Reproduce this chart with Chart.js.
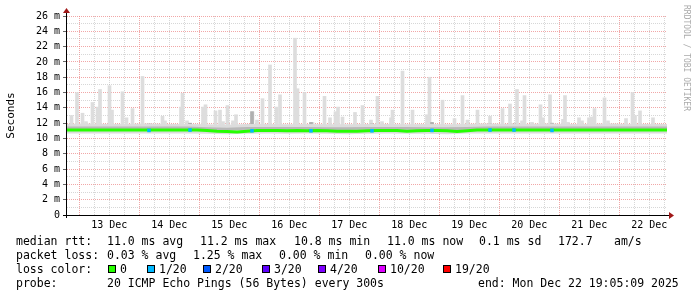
<!DOCTYPE html>
<html>
<head>
<meta charset="utf-8">
<script src="https://cdn.jsdelivr.net/npm/chart.js@4.4.1/dist/chart.umd.min.js"></script>
<style>
  body { margin: 0; background: #fff; }
  canvas { display: block; }
</style>
</head>
<body>
<canvas id="graficoPing" width="697" height="297"></canvas>
<script>
// hours counted from the start of the graph (Mon Dec 12 19:05)
const dayLabels = ["13 Dec", "14 Dec", "15 Dec", "16 Dec", "17 Dec", "18 Dec", "19 Dec", "20 Dec", "21 Dec", "22 Dec"];
const midnightOffset = 4.9167;

// light smoke spikes (max of the 20 pings)
const spikeHours = [1.8, 4.0, 6.2, 7.6, 10.2, 12.2, 13.2, 17.0, 18.0, 22.2, 23.8, 26.2, 30.2, 38.2, 39.2,
  45.6, 46.2, 48.0, 54.4, 55.4, 59.4, 61.2, 62.4, 64.2, 66.4, 67.6, 74.2, 76.0, 78.2, 81.2, 83.8, 85.2,
  91.2, 92.2, 95.0, 98.2, 103.0, 105.2, 107.4, 108.4, 110.2, 115.2, 118.2, 121.6, 124.2, 126.0, 129.6,
  130.2, 134.2, 138.2, 144.0, 145.0, 150.2, 155.0, 158.2, 160.2, 164.2, 169.2, 174.2, 177.2, 180.0,
  182.0, 183.0, 186.0, 189.4, 190.4, 193.2, 198.4, 199.2, 200.4, 204.8, 206.0, 208.8, 209.8, 211.0,
  215.0, 216.4, 223.6, 226.2, 227.2, 229.2, 234.4];
const spikeMax = [13.0, 16.0, 13.3, 12.2, 14.7, 14.1, 16.4, 16.9, 13.7, 16.1, 12.7, 13.9, 18.1, 12.9, 12.3,
  14.1, 15.9, 12.3, 14.1, 14.4, 13.6, 13.7, 12.2, 14.3, 12.3, 13.1, 13.5, 12.4, 15.2, 19.6, 14.1, 15.7,
  23.1, 16.5, 16.0, 12.1, 15.5, 12.7, 13.5, 14.1, 12.8, 13.4, 14.3, 12.4, 15.5, 12.2, 12.7,
  13.7, 18.8, 13.7, 13.1, 18.0, 15.0, 12.6, 15.6, 12.4, 13.7, 12.9, 13.9, 14.5, 16.4,
  12.3, 15.6, 12.1, 14.4, 12.7, 15.7, 12.5, 15.6, 12.1, 12.7, 12.3, 12.7, 12.8, 13.9,
  15.3, 12.3, 12.6, 16.0, 13.0, 13.6, 12.7];

// smoke band around the median, every 8 hours
const smokeLow = [10.65, 10.65, 10.65, 10.65, 10.65, 10.65, 10.65, 10.6, 10.55, 10.6, 10.65, 10.6, 10.65, 10.6, 10.55, 10.6,
  10.65, 10.6, 10.6, 10.55, 10.65, 10.65, 10.65, 10.65, 10.65, 10.65, 10.65, 10.65, 10.65, 10.65, 10.65];
const smokeHigh = [11.9, 11.95, 11.9, 11.9, 11.95, 11.9, 11.9, 11.85, 11.8, 11.9, 11.9, 11.85, 11.9, 11.85, 11.85, 11.9,
  11.9, 11.85, 11.9, 11.85, 11.9, 11.95, 11.9, 11.9, 11.95, 11.9, 11.9, 11.95, 11.9, 11.9, 11.9];
const midLow = [11.2, 11.2, 11.2, 11.2, 11.2, 11.2, 11.2, 11.1, 11.05, 11.15, 11.15, 11.15, 11.15, 11.1, 11.1, 11.15,
  11.15, 11.15, 11.1, 11.05, 11.15, 11.2, 11.2, 11.2, 11.2, 11.2, 11.2, 11.2, 11.2, 11.2, 11.2];
const midHigh = [11.55, 11.55, 11.55, 11.55, 11.55, 11.55, 11.55, 11.45, 11.4, 11.5, 11.5, 11.5, 11.5, 11.45, 11.45, 11.5,
  11.5, 11.5, 11.45, 11.45, 11.5, 11.55, 11.55, 11.55, 11.55, 11.55, 11.55, 11.55, 11.55, 11.55, 11.55];

// median rtt, every 4 hours
const medianRtt = [11.1, 11.1, 11.1, 11.1, 11.1, 11.1, 11.1, 11.1, 11.1, 11.1, 11.1, 11.1, 11.1, 11.1, 11.05,
  10.95, 10.9, 10.85, 10.95, 11.05, 11.05, 11.05, 11.0, 11.05, 11.0, 11.05, 11.0, 10.95, 10.95, 10.95,
  11.0, 11.05, 11.05, 11.05, 10.95, 11.0, 11.05, 11.05, 11.0, 10.9, 11.0, 11.1, 11.1, 11.1, 11.1,
  11.1, 11.1, 11.1, 11.1, 11.1, 11.1, 11.1, 11.1, 11.1, 11.1, 11.1, 11.1, 11.1, 11.1, 11.1, 11.1];

// samples with 1/20 loss
const lossHours = [32.8, 49.2, 74.0, 97.6, 122.0, 146.0, 169.2, 178.8, 194.0];
const lossRtt = [11.05, 11.1, 11.0, 11.0, 11.0, 11.05, 11.1, 11.1, 11.05];
const lossSmoke = [11.9, 12.0, 13.5, 12.1, 11.9, 12.1, 11.9, 11.9, 12.0];

const lossLabels = ["0", "1/20", "2/20", "3/20", "4/20", "10/20", "19/20"];
const lossColors = ["#26ff00", "#00b8ff", "#0059ff", "#5e00ff", "#7e00ff", "#dd00ff", "#ff0000"];

const corVermelha = "rgba(235,130,130,0.7)";
const corCinza = "rgba(175,175,175,0.5)";
const fonte = "DejaVu Sans Mono";

function pontos(valores, passo) {
  return valores.map((v, i) => ({ x: i * passo, y: v }));
}

const rotulos = {
  id: "rotulos",
  afterDraw(chart) {
    const ctx = chart.ctx;
    const a = chart.chartArea;
    ctx.save();

    // axes with arrows
    ctx.strokeStyle = "#000";
    ctx.lineWidth = 1;
    ctx.beginPath();
    ctx.moveTo(63, a.bottom + 0.5);
    ctx.lineTo(a.right + 4, a.bottom + 0.5);
    ctx.moveTo(a.left - 0.5, a.bottom + 3);
    ctx.lineTo(a.left - 0.5, a.top - 5);
    ctx.stroke();
    ctx.fillStyle = "#a01818";
    ctx.beginPath();
    ctx.moveTo(a.right + 2, a.bottom - 3);
    ctx.lineTo(a.right + 7, a.bottom + 0.5);
    ctx.lineTo(a.right + 2, a.bottom + 4);
    ctx.fill();
    ctx.beginPath();
    ctx.moveTo(a.left - 4, a.top - 3);
    ctx.lineTo(a.left - 0.5, a.top - 8);
    ctx.lineTo(a.left + 3, a.top - 3);
    ctx.fill();

    // watermark
    ctx.save();
    ctx.translate(686, 5);
    ctx.rotate(Math.PI / 2);
    ctx.font = "8px " + fonte;
    ctx.fillStyle = "#aaaaaa";
    ctx.textBaseline = "top";
    ctx.fillText("RRDTOOL / TOBI OETIKER", 0, -4);
    ctx.restore();

    // legend
    ctx.font = "11.5px " + fonte;
    ctx.fillStyle = "#000";
    ctx.textBaseline = "alphabetic";
    const linha1 = [[16, "median rtt:"], [107, "11.0 ms avg"], [200, "11.2 ms max"], [294, "10.8 ms min"],
      [387, "11.0 ms now"], [479, "0.1 ms sd"], [558, "172.7"], [614, "am/s"]];
    const linha2 = [[16, "packet loss:"], [107, "0.03 % avg"], [193, "1.25 % max"], [279, "0.00 % min"], [365, "0.00 % now"]];
    const linha4 = [[16, "probe:"], [107, "20 ICMP Echo Pings (56 Bytes) every 300s"], [478, "end: Mon Dec 22 19:05:09 2025"]];
    linha1.forEach(([x, t]) => ctx.fillText(t, x, 244.5));
    linha2.forEach(([x, t]) => ctx.fillText(t, x, 258.5));
    ctx.fillText("loss color:", 16, 272.5);
    const caixas = [108, 147, 203, 262, 318, 378, 443];
    lossLabels.forEach((t, i) => {
      ctx.fillStyle = lossColors[i];
      ctx.fillRect(caixas[i], 265, 7, 7);
      ctx.strokeStyle = "#000";
      ctx.strokeRect(caixas[i] + 0.5, 265.5, 7, 7);
      ctx.fillStyle = "#000";
      ctx.fillText(t, caixas[i] + 12, 272.5);
    });
    linha4.forEach(([x, t]) => ctx.fillText(t, x, 287));
    ctx.restore();
  }
};

const graficoPing = new Chart(document.getElementById("graficoPing"), {
  type: "bar",
  data: {
    datasets: [
      {
        type: "line",
        label: "loss 1/20",
        data: lossHours.map((h, i) => ({ x: h, y: lossRtt[i] })),
        showLine: false,
        pointStyle: "rect",
        pointRadius: 2.5,
        pointBackgroundColor: "#00b8ff",
        pointBorderWidth: 0,
        order: 0
      },
      {
        type: "line",
        label: "median",
        data: pontos(medianRtt, 4),
        borderColor: "#26ff00",
        borderWidth: 3,
        pointRadius: 0,
        tension: 0,
        order: 1
      },
      {
        type: "line",
        label: "mid low",
        data: pontos(midLow, 8),
        borderWidth: 0,
        pointRadius: 0,
        fill: false,
        order: 2
      },
      {
        type: "line",
        label: "mid high",
        data: pontos(midHigh, 8),
        borderWidth: 0,
        pointRadius: 0,
        backgroundColor: "#b8b8b8",
        fill: "-1",
        order: 3
      },
      {
        type: "line",
        label: "smoke low",
        data: pontos(smokeLow, 8),
        borderWidth: 0,
        pointRadius: 0,
        fill: false,
        order: 4
      },
      {
        type: "line",
        label: "smoke high",
        data: pontos(smokeHigh, 8),
        borderWidth: 0,
        pointRadius: 0,
        backgroundColor: "#dcdcdc",
        fill: "-1",
        order: 5
      },
      {
        label: "dark smoke",
        data: lossHours.map((h, i) => ({ x: h, y: [10.9, lossSmoke[i]] })),
        backgroundColor: "#b0b0b0",
        barThickness: 3,
        grouped: false,
        order: 6
      },
      {
        label: "spikes",
        data: spikeHours.map((h, i) => ({ x: h, y: [10.9, spikeMax[i]] })),
        backgroundColor: "#dddddd",
        barThickness: 3,
        grouped: false,
        order: 7
      }
    ]
  },
  options: {
    responsive: false,
    animation: false,
    devicePixelRatio: 1,
    layout: { padding: { left: 0, top: 16, right: 30, bottom: 62 } },
    plugins: {
      legend: { display: false },
      tooltip: { enabled: false }
    },
    scales: {
      x: {
        type: "linear",
        min: 0,
        max: 240,
        offset: false,
        afterBuildTicks: scale => {
          const ticks = [];
          for (let h = midnightOffset; h <= 240; h += 6) ticks.push({ value: h });
          scale.ticks = ticks;
        },
        afterFit: scale => { scale.height = 20; },
        grid: {
          offset: false,
          drawTicks: false,
          color: ctx => (ctx.index % 4 === 0 ? corVermelha : corCinza)
        },
        border: { display: false, dash: [1, 1] },
        ticks: {
          autoSkip: false,
          maxRotation: 0,
          padding: 4,
          color: "#000",
          font: { family: fonte, size: 10 },
          callback: (v, i) => (i % 4 === 2 ? dayLabels[(i - 2) / 4] : "")
        }
      },
      y: {
        min: 0,
        max: 26,
        afterFit: scale => { scale.width = 67; },
        grid: {
          tickLength: 4,
          color: ctx => (ctx.tick.value % 2 === 0 ? corVermelha : corCinza),
          tickColor: ctx => (ctx.tick.value % 2 === 0 ? "#666" : "rgba(0,0,0,0)")
        },
        border: { display: false, dash: [1, 1] },
        title: {
          display: true,
          text: "Seconds",
          color: "#000",
          font: { family: fonte, size: 11 },
          padding: { top: 5, bottom: 0 }
        },
        ticks: {
          stepSize: 1,
          autoSkip: false,
          padding: 3,
          color: "#000",
          font: { family: fonte, size: 10 },
          callback: v => (v === 0 ? "0" : (v % 2 === 0 ? v + " m" : ""))
        }
      }
    }
  },
  plugins: [rotulos]
});
</script>
</body>
</html>
